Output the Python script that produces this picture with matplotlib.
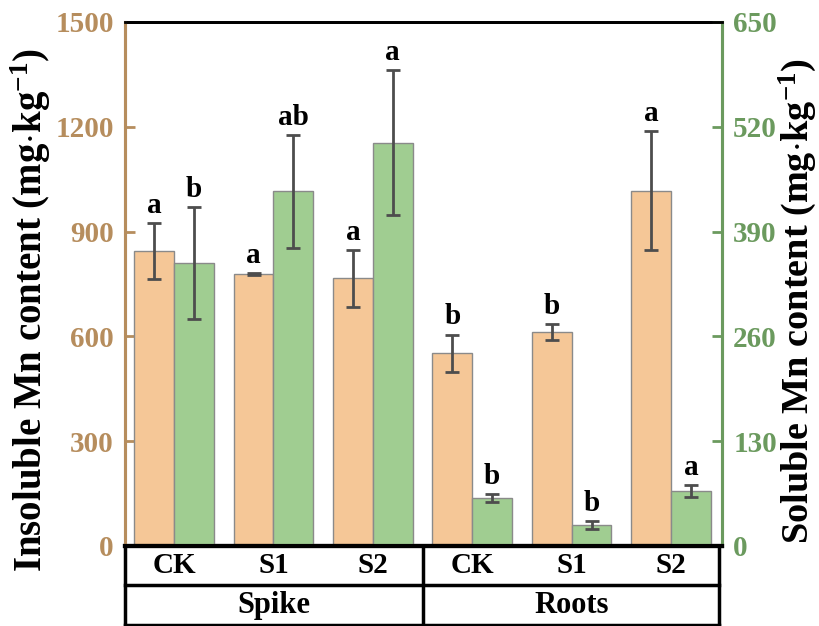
import matplotlib
matplotlib.use("Agg")
import matplotlib.pyplot as plt
import matplotlib.transforms as mtransforms
import numpy as np

plt.rcParams['font.family'] = ['Liberation Serif', 'DejaVu Serif']
plt.rcParams['font.weight'] = 'bold'
plt.rcParams['mathtext.fontset'] = 'custom'
plt.rcParams['mathtext.rm'] = 'Liberation Serif:bold'
plt.rcParams['mathtext.bf'] = 'Liberation Serif:bold'
plt.rcParams['mathtext.default'] = 'rm'

# treatments within each tissue
treatments = ['CK', 'S1', 'S2', 'CK', 'S1', 'S2']
tissues = ['Spike', 'Roots']

insoluble = [845, 778, 766, 552, 612, 1017]
insoluble_err = [80, 3, 82, 53, 23, 170]
insoluble_sig = ['a', 'a', 'a', 'b', 'b', 'a']

soluble = [351, 440, 500, 60, 26, 68]
soluble_err = [70, 70, 90, 5, 5, 7.5]
soluble_sig = ['b', 'ab', 'a', 'b', 'b', 'a']

c_orange = '#f5c797'
c_green = '#a0cd91'
c_tan = '#b68d5d'
c_sage = '#6b9a5e'
c_err = '#4d4d4d'

fig = plt.figure(figsize=(8.19, 6.26), dpi=100)
ax = fig.add_axes([0.1526, 0.1278, 0.7290, 0.8371])
ax2 = ax.twinx()

x = np.arange(len(treatments))
w = 0.4
ekw = dict(ecolor=c_err, elinewidth=2, capsize=5, capthick=2)

ax.bar(x - w / 2, insoluble, w, color=c_orange, edgecolor='#8a8a8a', linewidth=1,
       yerr=insoluble_err, error_kw=ekw, zorder=2)
ax2.bar(x + w / 2, soluble, w, color=c_green, edgecolor='#8a8a8a', linewidth=1,
        yerr=soluble_err, error_kw=ekw, zorder=2)

for xi, v, e, s in zip(x, insoluble, insoluble_err, insoluble_sig):
    ax.text(xi - w / 2, v + e + 12, s, ha='center', va='bottom', fontsize=21, fontweight='bold')
for xi, v, e, s in zip(x, soluble, soluble_err, soluble_sig):
    ax2.text(xi + w / 2, v + e + 5, s, ha='center', va='bottom', fontsize=21, fontweight='bold')

ax.set_xlim(-0.493, 5.513)
ax.set_ylim(0, 1500)
ax2.set_ylim(0, 650)
ax.set_yticks(np.arange(0, 1501, 300))
ax2.set_yticks(np.arange(0, 651, 130))
ax.set_xticks([])

ax.tick_params(axis='y', direction='in', length=7, width=2, colors=c_tan, labelsize=21, pad=8)
ax2.tick_params(axis='y', direction='in', length=7, width=2, colors=c_sage, labelsize=21, pad=8)
for lab in ax.get_yticklabels() + ax2.get_yticklabels():
    lab.set_fontweight('bold')

for a in (ax, ax2):
    a.spines['left'].set_color(c_tan)
    a.spines['left'].set_linewidth(2.2)
    a.spines['right'].set_color(c_sage)
    a.spines['right'].set_linewidth(2.2)
    a.spines['top'].set_linewidth(2)
    a.spines['bottom'].set_linewidth(3)

ax.set_ylabel('Insoluble Mn content (mg$\\cdot$kg$^{-1}$)', fontsize=28, fontweight='bold')
ax2.set_ylabel('Soluble Mn content (mg$\\cdot$kg$^{-1}$)', fontsize=27.5, fontweight='bold')
ax.yaxis.set_label_coords(-0.121, 0.45)
ax2.yaxis.set_label_coords(1.091, 0.468)

# category table under the plot
trans = mtransforms.blended_transform_factory(ax.transData, ax.transAxes)
r1 = -0.0744
r2 = -0.151
lkw = dict(color='black', linewidth=2.5, clip_on=False, transform=trans)
xl, xr = -0.493, 5.48
ax.plot([xl, xr], [r1, r1], **lkw)
ax.plot([xl, xr], [r2, r2], **lkw)
for xv in (xl, 2.5, xr):
    ax.plot([xv, xv], [0, r2], **lkw)

for xi, t in zip(x, treatments):
    ax.text(xi, r1 / 2, t, transform=trans, ha='center', va='center', fontsize=21, fontweight='bold')
for xc, t in zip([1.0, 4.0], tissues):
    ax.text(xc, (r1 + r2) / 2, t, transform=trans, ha='center', va='center', fontsize=22, fontweight='bold')

fig.savefig('out.png', dpi=100)
